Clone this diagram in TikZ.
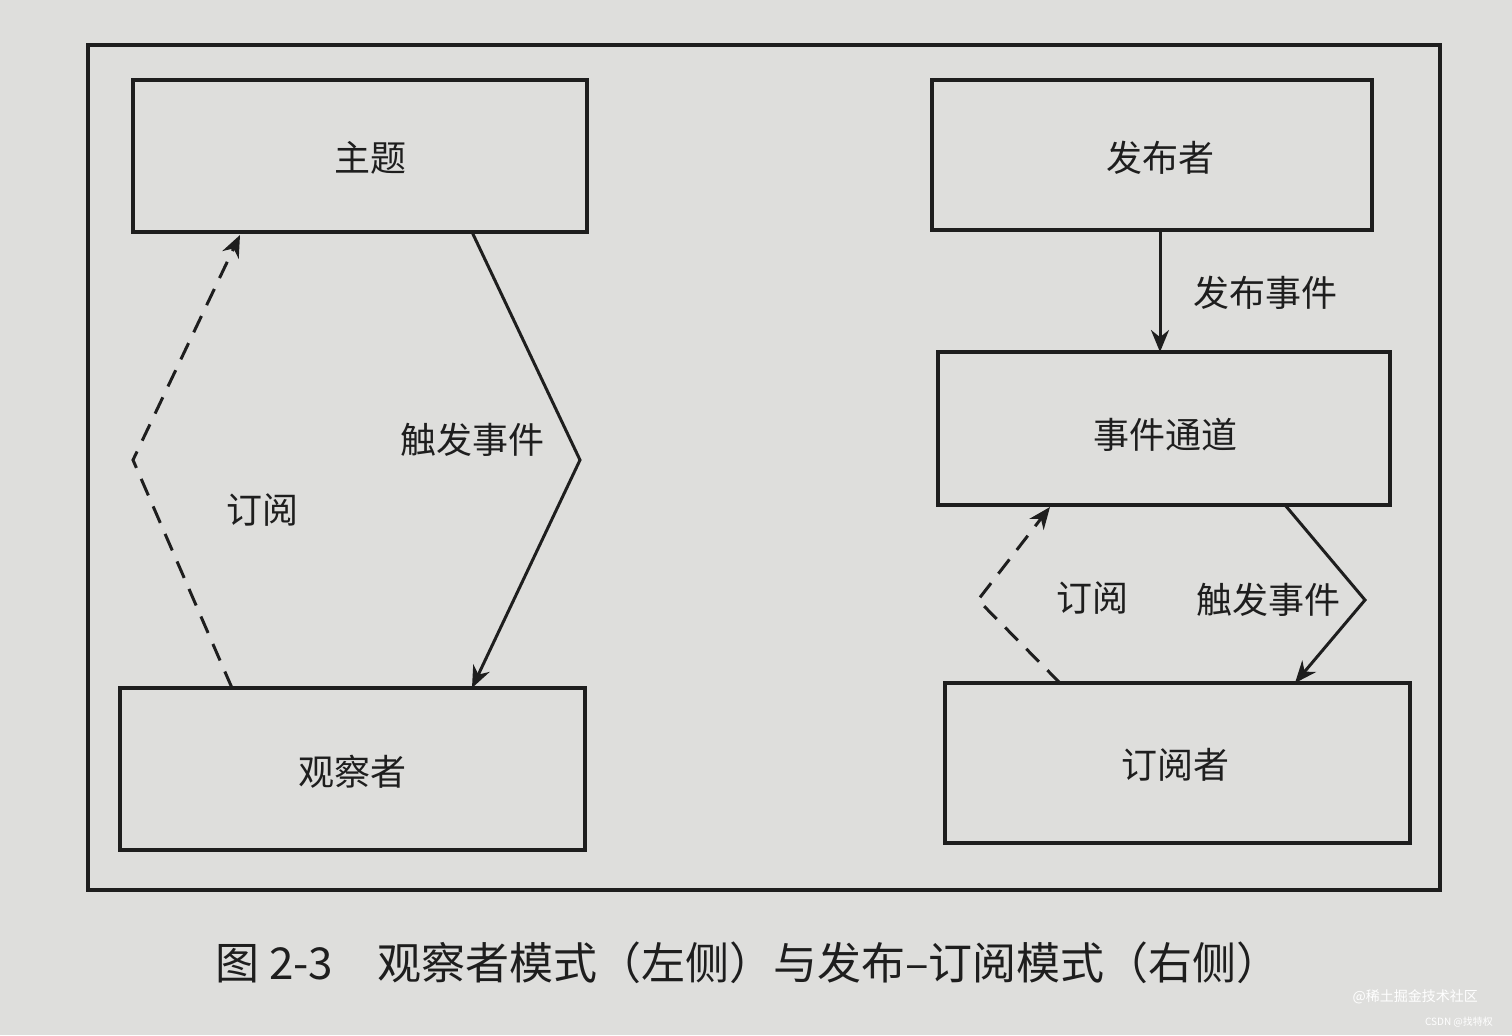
\documentclass[tikz,border=0pt]{standalone}
\usepackage{fontspec}
\setmainfont{Noto Sans CJK SC}
\usetikzlibrary{arrows.meta}
\definecolor{paper}{RGB}{222,222,220}
\definecolor{ink}{RGB}{30,30,30}
\tikzset{
  box/.style={draw=ink,line width=1.6pt,minimum width=#1},
  conn/.style={draw=ink,line width=1.5pt,-{Stealth[length=11pt,width=9pt]}},
  lbl/.style={font=\fontsize{18}{20}\selectfont,text=ink},
}
\begin{document}
\begin{tikzpicture}[x=0.5pt,y=-0.5pt]
\fill[paper] (0,0) rectangle (1512,1035);
\useasboundingbox (0,0) rectangle (1512,1035);
\draw[ink,line width=1.6pt] (88,45) rectangle (1440,890);
% boxes
\draw[ink,line width=1.6pt] (133,80) rectangle (587,232);
\node[lbl] (zt) at (370,158) {主题};
\draw[ink,line width=1.6pt] (120,688) rectangle (585,850);
\node[lbl] (gcz) at (352,772) {观察者};
\draw[ink,line width=1.6pt] (932,80) rectangle (1372,230);
\node[lbl] (fbz) at (1160,158) {发布者};
\draw[ink,line width=1.6pt] (938,352) rectangle (1390,505);
\node[lbl] (sjtd) at (1165,435) {事件通道};
\draw[ink,line width=1.6pt] (945,683) rectangle (1410,843);
\node[lbl] (dyz) at (1175,765) {订阅者};
% named anchors
\coordinate (a1) at (472,232); \coordinate (a2) at (580,460); \coordinate (a3) at (472,688);
\coordinate (b1) at (232,688); \coordinate (b2) at (133,460); \coordinate (b3) at (240,235);
\coordinate (c1) at (1160,230); \coordinate (c2) at (1160,352);
\coordinate (d1) at (1285,505); \coordinate (d2) at (1365,600); \coordinate (d3) at (1295,683);
\coordinate (e1) at (1060,683); \coordinate (e2) at (978,600); \coordinate (e3) at (1050,507);
% connectors
\draw[conn] (a1) -- (a2) -- (a3);
\draw[conn,dashed,dash pattern=on 9pt off 6pt] (b1) -- (b2) -- (b3);
\draw[conn] (c1) -- (c2);
\draw[conn] (d1) -- (d2) -- (d3);
\draw[conn,dashed,dash pattern=on 9pt off 6pt] (e1) -- (e2) -- (e3);
% labels
\node[lbl] (l1) at (472,440) {触发事件};
\node[lbl] (l2) at (262,510) {订阅};
\node[lbl] (l3) at (1265,293) {发布事件};
\node[lbl] (l4) at (1268,600) {触发事件};
\node[lbl] (l5) at (1092,598) {订阅};
\node[font=\fontsize{22}{26}\selectfont,text=ink] (cap) at (748,963) {图 2-3\quad 观察者模式（左侧）与发布–订阅模式（右侧）};
\node[font=\fontsize{7}{8}\selectfont,text=white,anchor=east] (wm1) at (1485,997) {@稀土掘金技术社区};
\node[font=\fontsize{5}{6}\selectfont,text=white,anchor=east] (wm2) at (1500,1022) {CSDN @找特权};
\end{tikzpicture}
\end{document}
